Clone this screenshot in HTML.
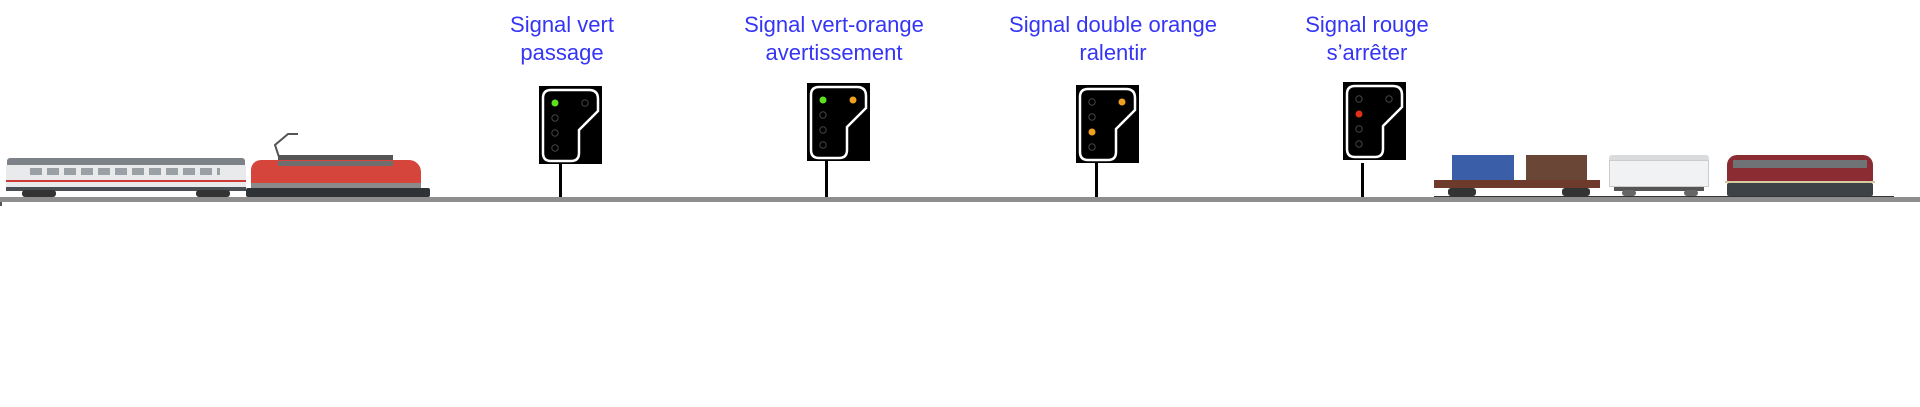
<!DOCTYPE html>
<html><head><meta charset="utf-8">
<style>
html,body{margin:0;padding:0;background:#fff;}
body{width:1920px;height:407px;position:relative;overflow:hidden;font-family:"Liberation Sans",Arial,sans-serif;}
.lbl{position:absolute;top:11px;width:360px;margin-left:-180px;text-align:center;color:#3535f5;font-size:22px;line-height:28px;}
.sig{position:absolute;width:63px;height:78px;}
.pole{position:absolute;width:3px;background:#000;top:162px;height:38px;}
.track{position:absolute;left:0;top:197px;width:1920px;height:5px;background:#8e8e8e;}
.a{position:absolute;}
</style></head><body>

<div class="lbl" style="left:562px">Signal vert<br>passage</div>
<div class="lbl" style="left:834px">Signal vert-orange<br>avertissement</div>
<div class="lbl" style="left:1113px">Signal double orange<br>ralentir</div>
<div class="lbl" style="left:1367px">Signal rouge<br>s’arrêter</div>

<svg width="0" height="0" style="position:absolute">
<defs>
<path id="sh" d="M12,4 H50 Q59,4 59,13 V25 L40,44 V67 Q40,75 32,75 H12 Q4,75 4,67 V12 Q4,4 12,4 Z"/>
</defs>
</svg>

<!-- signal 1 -->
<svg class="sig" style="left:539px;top:86px" viewBox="0 0 63 78">
<rect width="63" height="78" fill="#000"/>
<use href="#sh" fill="#000" stroke="#fff" stroke-width="2.5"/>
<circle cx="16" cy="17" r="3.5" fill="#5fe01f"/>
<circle cx="46" cy="17" r="3.2" fill="none" stroke="#444" stroke-width="1"/>
<circle cx="16" cy="32" r="3.2" fill="none" stroke="#444" stroke-width="1"/>
<circle cx="16" cy="47" r="3.2" fill="none" stroke="#444" stroke-width="1"/>
<circle cx="16" cy="62" r="3.2" fill="none" stroke="#444" stroke-width="1"/>
</svg>
<div class="pole" style="left:559px;top:163px"></div>

<!-- signal 2 -->
<svg class="sig" style="left:807px;top:83px" viewBox="0 0 63 78">
<rect width="63" height="78" fill="#000"/>
<use href="#sh" fill="#000" stroke="#fff" stroke-width="2.5"/>
<circle cx="16" cy="17" r="3.5" fill="#5fe01f"/>
<circle cx="46" cy="17" r="3.5" fill="#f0a020"/>
<circle cx="16" cy="32" r="3.2" fill="none" stroke="#444" stroke-width="1"/>
<circle cx="16" cy="47" r="3.2" fill="none" stroke="#444" stroke-width="1"/>
<circle cx="16" cy="62" r="3.2" fill="none" stroke="#444" stroke-width="1"/>
</svg>
<div class="pole" style="left:825px;top:161px"></div>

<!-- signal 3 -->
<svg class="sig" style="left:1076px;top:85px" viewBox="0 0 63 78">
<rect width="63" height="78" fill="#000"/>
<use href="#sh" fill="#000" stroke="#fff" stroke-width="2.5"/>
<circle cx="16" cy="17" r="3.2" fill="none" stroke="#444" stroke-width="1"/>
<circle cx="46" cy="17" r="3.5" fill="#f0a020"/>
<circle cx="16" cy="32" r="3.2" fill="none" stroke="#444" stroke-width="1"/>
<circle cx="16" cy="47" r="3.5" fill="#f0a020"/>
<circle cx="16" cy="62" r="3.2" fill="none" stroke="#444" stroke-width="1"/>
</svg>
<div class="pole" style="left:1095px;top:163px"></div>

<!-- signal 4 -->
<svg class="sig" style="left:1343px;top:82px" viewBox="0 0 63 78">
<rect width="63" height="78" fill="#000"/>
<use href="#sh" fill="#000" stroke="#fff" stroke-width="2.5"/>
<circle cx="16" cy="17" r="3.2" fill="none" stroke="#444" stroke-width="1"/>
<circle cx="46" cy="17" r="3.2" fill="none" stroke="#444" stroke-width="1"/>
<circle cx="16" cy="32" r="3.5" fill="#e0301a"/>
<circle cx="16" cy="47" r="3.2" fill="none" stroke="#444" stroke-width="1"/>
<circle cx="16" cy="62" r="3.2" fill="none" stroke="#444" stroke-width="1"/>
</svg>
<div class="pole" style="left:1361px;top:163px"></div>

<!-- left train: coach -->
<div class="a" style="left:7px;top:158px;width:238px;height:7px;background:#7d8288;border-radius:3px 3px 0 0"></div>
<div class="a" style="left:6px;top:165px;width:240px;height:22px;background:#e8eaec"></div>
<div class="a" style="left:6px;top:180px;width:240px;height:2px;background:#d03a35"></div>
<div class="a" style="left:30px;top:168px;width:190px;height:7px;background:repeating-linear-gradient(90deg,#9aa0a6 0 12px,#e8eaec 12px 17px)"></div>
<div class="a" style="left:6px;top:187px;width:240px;height:4px;background:#4a4f55"></div>
<div class="a" style="left:22px;top:190px;width:34px;height:7px;background:#333;border-radius:3px"></div>
<div class="a" style="left:196px;top:190px;width:34px;height:7px;background:#333;border-radius:3px"></div>
<!-- left train: loco -->
<svg class="a" style="left:270px;top:130px" width="60" height="32" viewBox="0 0 60 32"><polyline points="10,30 5,15 18,4 28,4" fill="none" stroke="#555" stroke-width="2"/></svg>
<div class="a" style="left:278px;top:155px;width:115px;height:5px;background:#555"></div>
<div class="a" style="left:251px;top:160px;width:170px;height:26px;background:#d6453c;border-radius:10px 12px 2px 2px"></div>
<div class="a" style="left:278px;top:161px;width:115px;height:5px;background:#6e6e6e"></div>
<div class="a" style="left:251px;top:183px;width:170px;height:5px;background:#8a8a8a"></div>
<div class="a" style="left:246px;top:188px;width:184px;height:9px;background:#2f3236;border-radius:2px"></div>

<!-- right train: flat wagon with containers -->
<div class="a" style="left:1452px;top:155px;width:62px;height:25px;background:#3a5ea8"></div>
<div class="a" style="left:1526px;top:155px;width:61px;height:25px;background:#6a4637"></div>
<div class="a" style="left:1434px;top:180px;width:166px;height:8px;background:#6e3a2c"></div>
<div class="a" style="left:1448px;top:188px;width:28px;height:8px;background:#333;border-radius:3px"></div>
<div class="a" style="left:1562px;top:188px;width:28px;height:8px;background:#333;border-radius:3px"></div>
<!-- white wagon -->
<div class="a" style="left:1609px;top:155px;width:100px;height:5px;background:#d9dbdd;border-radius:3px 3px 0 0"></div>
<div class="a" style="left:1609px;top:160px;width:100px;height:27px;background:#f1f2f3;border:1px solid #ccc;box-sizing:border-box"></div>
<div class="a" style="left:1614px;top:187px;width:90px;height:4px;background:#555"></div>
<div class="a" style="left:1622px;top:190px;width:14px;height:6px;background:#666;border-radius:3px"></div>
<div class="a" style="left:1684px;top:190px;width:14px;height:6px;background:#666;border-radius:3px"></div>
<!-- diesel -->
<div class="a" style="left:1727px;top:155px;width:146px;height:27px;background:#8a2c31;border-radius:10px 10px 2px 2px"></div>
<div class="a" style="left:1733px;top:160px;width:134px;height:8px;background:#6f7376"></div>
<div class="a" style="left:1725px;top:181px;width:150px;height:2px;background:#d8c9a0"></div>
<div class="a" style="left:1727px;top:183px;width:146px;height:13px;background:#3d4246;border-radius:2px"></div>

<div class="a" style="left:1434px;top:196px;width:460px;height:1px;background:#333"></div>
<div class="track"></div>
<div class="a" style="left:0;top:202px;width:2px;height:4px;background:#555"></div>
</body></html>
